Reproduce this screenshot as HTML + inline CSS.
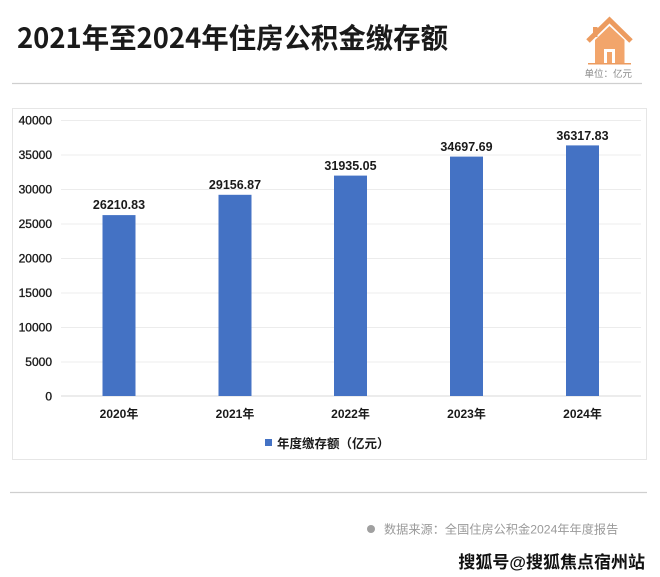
<!DOCTYPE html>
<html>
<head>
<meta charset="utf-8">
<style>
  html, body { margin:0; padding:0; background:#fff; }
  svg { display:block; }
  .cjk { font-family: "Liberation Sans", "Noto Sans CJK SC", sans-serif; }
  .cjkn { font-family: "Noto Sans CJK SC", "Liberation Sans", sans-serif; }
</style>
</head>
<body>
<svg width="660" height="577" viewBox="0 0 660 577" xmlns="http://www.w3.org/2000/svg">
  <rect x="0" y="0" width="660" height="577" fill="#ffffff"/>

  <!-- Title -->
  <text x="17" y="48" class="cjkn" font-size="28" font-weight="bold" fill="#1a1a1a" textLength="431" lengthAdjust="spacingAndGlyphs">2021年至2024年住房公积金缴存额</text>

  <!-- House icon -->
  <g>
    <rect x="593" y="27" width="4.5" height="10" fill="#EC9B5F"/>
    <polygon points="595,40 609.5,26 624.5,40 624.5,64 595,64" fill="#F2A56B"/>
    <polyline points="588,41 609.5,20 631,41" fill="none" stroke="#EC9B5F" stroke-width="5" stroke-linejoin="miter"/>
    <rect x="604" y="49" width="11" height="15" fill="#ffffff"/>
    <rect x="607" y="52" width="5" height="12" fill="#F2A56B"/>
    <rect x="588" y="63" width="43" height="1.5" fill="#EC9B5F"/>
  </g>
  <text x="632" y="77" text-anchor="end" class="cjk" font-size="9.5" fill="#8a8a8a">单位：亿元</text>

  <!-- Top separator -->
  <line x1="12" y1="83.5" x2="642" y2="83.5" stroke="#cfcfcf" stroke-width="1.2"/>

  <!-- Chart box -->
  <rect x="12.5" y="108.5" width="634" height="351" fill="#ffffff" stroke="#e6e6e6" stroke-width="1"/>

  <!-- Gridlines -->
  <g stroke="#ececec" stroke-width="1">
    <line x1="61" y1="120.5" x2="641" y2="120.5"/>
    <line x1="61" y1="155" x2="641" y2="155"/>
    <line x1="61" y1="189.5" x2="641" y2="189.5"/>
    <line x1="61" y1="224" x2="641" y2="224"/>
    <line x1="61" y1="258.5" x2="641" y2="258.5"/>
    <line x1="61" y1="293" x2="641" y2="293"/>
    <line x1="61" y1="327.5" x2="641" y2="327.5"/>
    <line x1="61" y1="362" x2="641" y2="362"/>
  </g>
  <line x1="61" y1="396" x2="641" y2="396" stroke="#d9d9d9" stroke-width="1"/>

  <!-- Y axis labels -->
  <g font-family="Liberation Sans, sans-serif" font-size="12" fill="#1a1a1a" text-anchor="end" stroke="#1a1a1a" stroke-width="0.35">
    <text x="52" y="124.5">40000</text>
    <text x="52" y="159">35000</text>
    <text x="52" y="193.5">30000</text>
    <text x="52" y="228">25000</text>
    <text x="52" y="262.5">20000</text>
    <text x="52" y="297">15000</text>
    <text x="52" y="331.5">10000</text>
    <text x="52" y="366">5000</text>
    <text x="52" y="400.5">0</text>
  </g>

  <!-- Bars -->
  <g fill="#4472C4">
    <rect x="102.5" y="215.1" width="33" height="180.9"/>
    <rect x="218.5" y="194.8" width="33" height="201.2"/>
    <rect x="334" y="175.6" width="33" height="220.4"/>
    <rect x="450" y="156.6" width="33" height="239.4"/>
    <rect x="566" y="145.4" width="33" height="250.6"/>
  </g>

  <!-- Value labels -->
  <g font-family="Liberation Sans, sans-serif" font-size="12.5" font-weight="bold" fill="#1a1a1a" text-anchor="middle">
    <text x="119" y="209">26210.83</text>
    <text x="235" y="189">29156.87</text>
    <text x="350.5" y="170">31935.05</text>
    <text x="466.5" y="151">34697.69</text>
    <text x="582.5" y="140">36317.83</text>
  </g>

  <!-- X labels -->
  <g class="cjk" font-size="12" font-weight="bold" fill="#1a1a1a" text-anchor="middle">
    <text x="119" y="418">2020年</text>
    <text x="235" y="418">2021年</text>
    <text x="350.5" y="418">2022年</text>
    <text x="466.5" y="418">2023年</text>
    <text x="582.5" y="418">2024年</text>
  </g>

  <!-- Legend -->
  <rect x="265" y="439" width="7" height="7" fill="#4472C4"/>
  <text x="277" y="448" class="cjk" font-size="12.5" font-weight="bold" fill="#1a1a1a">年度缴存额（亿元）</text>

  <!-- Bottom separator -->
  <line x1="10" y1="492.5" x2="647" y2="492.5" stroke="#cfcfcf" stroke-width="1.2"/>

  <!-- Source -->
  <circle cx="371" cy="529" r="4" fill="#a0a0a0"/>
  <text x="384" y="533.5" class="cjk" font-size="12.2" fill="#9a9a9a">数据来源：全国住房公积金2024年年度报告</text>

  <!-- Sohu text -->
  <text x="645" y="568" text-anchor="end" class="cjk" font-size="17" font-weight="bold" fill="#111" stroke="#ffffff" stroke-width="0.6" paint-order="stroke">搜狐号@搜狐焦点宿州站</text>
</svg>
</body>
</html>
